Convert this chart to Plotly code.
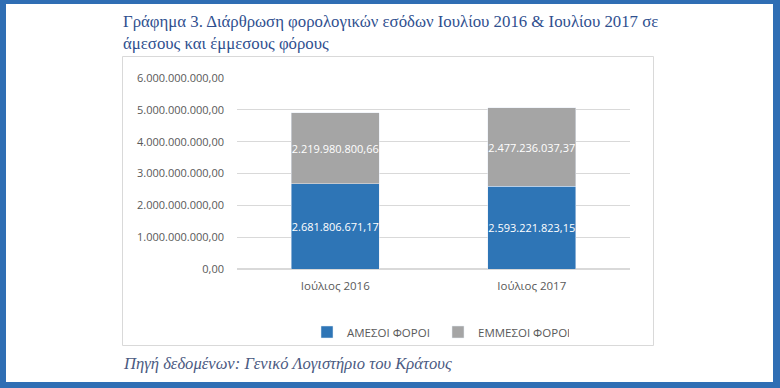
import plotly.graph_objects as go

categories = ["Ιούλιος 2016", "Ιούλιος 2017"]
direct_taxes = [2681806671.17, 2593221823.15]
indirect_taxes = [2219980800.66, 2477236037.37]
series_names = ["ΑΜΕΣΟΙ ΦΟΡΟΙ", "ΕΜΜΕΣΟΙ ΦΟΡΟΙ"]
y_ticks = [0, 1e9, 2e9, 3e9, 4e9, 5e9, 6e9]

W, H = 780, 388
L, R, T, B = 237, 630, 78, 269  # plot area in px


def px(x):
    return (x - L) / (R - L)


def py(y):
    return (B - y) / (B - T)


fig = go.Figure()
for name, vals, color in [(series_names[0], direct_taxes, "#2E75B6"),
                          (series_names[1], indirect_taxes, "#A5A5A5")]:
    fig.add_trace(go.Bar(
        x=categories, y=vals, name=name, marker_color=color,
        texttemplate="%{y:,.2f}", textposition="inside",
        insidetextanchor="middle", constraintext="none",
        textfont=dict(color="white", size=11, family="Open Sans"),
        hoverinfo="skip",
    ))

fig.update_layout(
    width=W, height=H,
    margin=dict(l=L, r=W - R, t=T, b=H - B, pad=0),
    barmode="stack", bargap=0.55,
    separators=",.",
    paper_bgcolor="#2F6EB4",
    plot_bgcolor="rgba(0,0,0,0)",
    font=dict(family="Open Sans", size=11, color="#595959"),
    showlegend=True,
    legend=dict(orientation="h", x=px(438), xanchor="center", y=py(332), yanchor="middle",
                traceorder="normal", itemwidth=30, entrywidth=86, entrywidthmode="pixels",
                font=dict(size=11.5, color="#595959"), bgcolor="rgba(0,0,0,0)"),
    xaxis=dict(showgrid=False, showline=False, ticks="", ticklabelstandoff=8,
               tickfont=dict(size=11.5, color="#595959")),
    yaxis=dict(range=[0, 6e9], tickvals=y_ticks, tickformat=",.2f", showgrid=True,
               gridcolor="#D9D9D9", gridwidth=1, zeroline=True, zerolinecolor="#D9D9D9",
               showline=False, ticks="", ticklabelstandoff=12,
               tickfont=dict(size=11, color="#595959")),
    shapes=[
        dict(type="rect", xref="paper", yref="paper", x0=px(6), x1=px(773), y0=py(382), y1=py(4),
             fillcolor="white", line=dict(width=0), layer="below"),
        dict(type="rect", xref="paper", yref="paper", x0=px(122.5), x1=px(653.5), y0=py(345.5), y1=py(56.5),
             fillcolor="white", line=dict(width=1, color="#D9D9D9"), layer="below"),
    ],
    annotations=[
        dict(xref="paper", yref="paper", x=px(121), y=py(10), xanchor="left", yanchor="top",
             align="left", showarrow=False,
             text="Γράφημα 3. Διάρθρωση φορολογικών εσόδων Ιουλίου 2016 & Ιουλίου 2017 σε<br>άμεσους και έμμεσους φόρους",
             font=dict(family="Liberation Serif", size=16.8, color="#2F4F8F")),
        dict(xref="paper", yref="paper", x=px(121), y=py(363), xanchor="left", yanchor="middle",
             showarrow=False,
             text="<i>Πηγή δεδομένων: Γενικό Λογιστήριο του Κράτους</i>",
             font=dict(family="Liberation Serif", size=16.6, color="#4B5A82")),
    ],
)

fig.write_html("out.html", config={"displayModeBar": False},
               post_script="document.body.style.margin='0';document.body.style.padding='0';")
